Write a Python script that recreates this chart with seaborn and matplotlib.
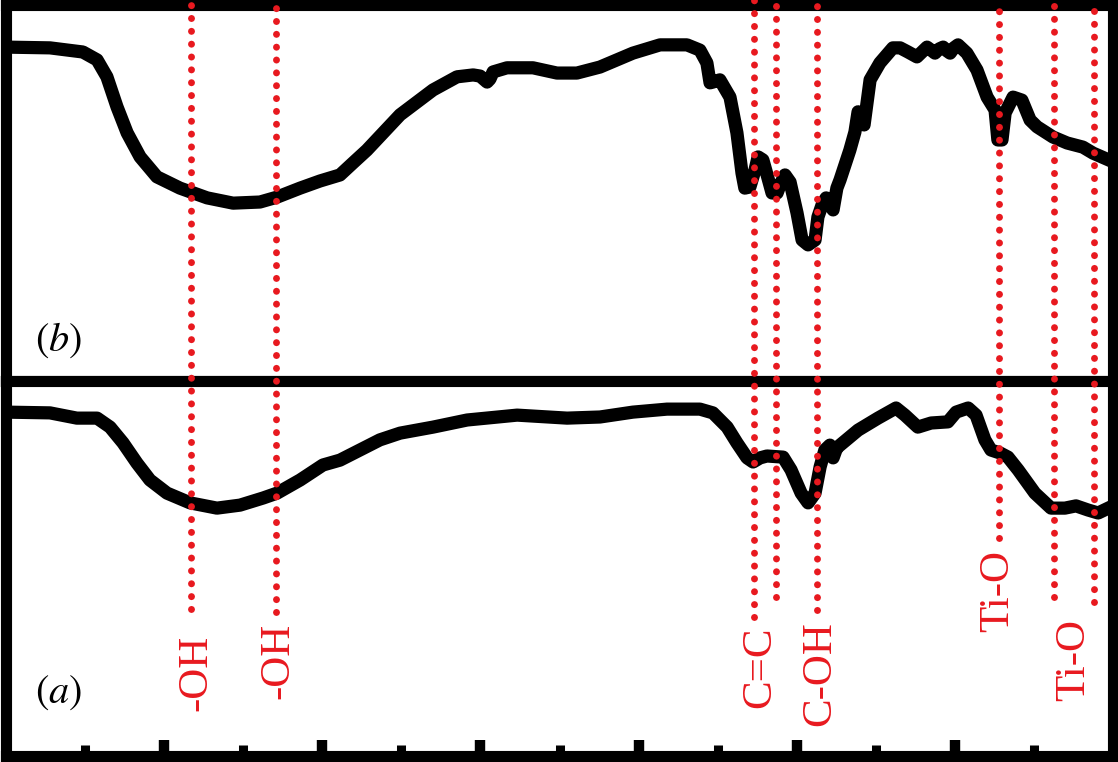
import matplotlib
matplotlib.use("Agg")
import matplotlib.pyplot as plt
import seaborn as sns

# ---------------- data ----------------
# spectrum (b) - upper panel: wavenumber (cm-1) and transmittance (%)
wn_b = [4000, 3861, 3757, 3712, 3681, 3649, 3617, 3576, 3523, 3450,
        3364, 3282, 3197, 3143, 3070, 3007, 2944, 2903, 2859, 2754,
        2650, 2574, 2523, 2501, 2479, 2470, 2460, 2416, 2334, 2258,
        2195, 2122, 2018, 1932, 1847, 1806, 1784, 1774, 1765, 1743,
        1711, 1689, 1673, 1664, 1648, 1632, 1622, 1607, 1591, 1578,
        1562, 1550, 1537, 1521, 1499, 1483, 1464, 1442, 1433, 1420,
        1407, 1395, 1385, 1373, 1363, 1332, 1316, 1306, 1297, 1287,
        1268, 1237, 1196, 1173, 1148, 1120, 1104, 1088, 1075, 1063,
        1050, 1037, 1025, 1015, 1003, 990, 962, 930, 898, 873,
        864, 851, 841, 816, 788, 762, 740, 690, 645, 595,
        563, 500]
tr_b = [88.8, 88.6, 87.5, 85.4, 80.9, 72.9, 66.0, 59.6, 54.3, 51.3,
        48.7, 47.3, 47.6, 48.9, 51.3, 53.2, 54.8, 58.0, 61.4, 70.8,
        77.4, 80.9, 81.4, 81.1, 79.5, 80.3, 82.2, 83.3, 83.3, 81.9,
        81.9, 83.5, 87.2, 89.4, 89.4, 88.0, 84.6, 79.3, 79.5, 80.1,
        75.5, 66.0, 55.3, 51.3, 51.6, 56.1, 59.6, 58.8, 54.0, 50.0,
        50.0, 52.7, 54.8, 52.9, 44.7, 37.5, 36.2, 37.5, 43.6, 46.8,
        48.7, 46.8, 45.5, 51.3, 53.5, 61.4, 66.2, 71.6, 69.4, 68.1,
        80.1, 84.6, 88.6, 88.6, 87.5, 86.2, 87.5, 88.8, 88.0, 87.2,
        88.3, 88.8, 87.8, 87.2, 88.6, 89.4, 87.2, 82.7, 75.5, 72.1,
        64.1, 64.1, 71.3, 75.5, 74.7, 69.4, 67.6, 64.9, 63.3, 62.2,
        60.6, 58.3]

# spectrum (a) - lower panel
wn_a = [4000, 3861, 3776, 3712, 3671, 3630, 3586, 3545, 3491, 3418,
        3333, 3260, 3187, 3143, 3070, 2998, 2944, 2881, 2818, 2754,
        2650, 2542, 2384, 2226, 2122, 2018, 1910, 1806, 1765, 1720,
        1689, 1657, 1638, 1616, 1594, 1543, 1518, 1486, 1464, 1442,
        1426, 1411, 1395, 1385, 1376, 1370, 1306, 1243, 1186, 1158,
        1117, 1075, 1022, 996, 958, 933, 905, 886, 857, 832,
        800, 747, 696, 652, 617, 579, 547, 500]
tr_a = [91.7, 91.5, 90.1, 90.1, 87.7, 83.5, 78.1, 73.6, 70.1, 67.5,
        66.1, 66.9, 68.8, 70.1, 73.6, 77.6, 78.9, 81.6, 84.3, 86.1,
        87.7, 89.6, 90.9, 90.1, 90.4, 91.7, 92.5, 92.5, 91.5, 87.7,
        83.5, 79.5, 78.4, 79.5, 80.0, 79.7, 76.3, 70.1, 67.5, 70.1,
        77.1, 81.6, 82.9, 79.5, 81.6, 82.4, 86.9, 90.1, 92.8, 90.9,
        87.7, 88.8, 89.1, 91.7, 92.8, 90.9, 84.3, 81.6, 80.8, 79.7,
        76.3, 70.1, 66.1, 66.1, 66.7, 65.6, 64.8, 66.7]

# band markers (dotted red lines)
band_wn = [3415, 3145, 1635, 1565, 1435, 860, 687, 560]
band_end = [39.2, 38.4, 37.1, 42.4, 38.9, 58.1, 42.4, 41.1]

# band labels
label_text = ["-OH", "-OH", "C=C", "C-OH", "Ti-O", "Ti-O"]
label_wn = [3400, 3140, 1616, 1426, 864, 623]
label_tr = [22.1, 25.3, 23.7, 22.1, 44.0, 25.6]

panel_labels = [r"$(b)$", r"$(a)$"]
major_ticks = [3500, 3000, 2500, 2000, 1500, 1000]
minor_ticks = [3750, 3250, 2750, 2250, 1750, 1250, 750]

# ---------------- style ----------------
sns.set_style("white")
plt.rcParams["mathtext.fontset"] = "stix"
plt.rcParams["font.family"] = ["Liberation Serif", "DejaVu Serif"]

RED = "#e8191f"
W, H = 1118, 762
fig = plt.figure(figsize=(W / 100, H / 100), dpi=100)
fig.patch.set_facecolor("white")

ax_b = fig.add_axes([6 / W, 381 / H, 1107 / W, 376 / H])
ax_a = fig.add_axes([6 / W, 6 / H, 1107 / W, 375 / H])

for ax, wn, tr in ((ax_b, wn_b, tr_b), (ax_a, wn_a, tr_a)):
    sns.lineplot(x=wn, y=tr, ax=ax, color="black", lw=9.5, sort=False,
                 estimator=None, solid_joinstyle="round", solid_capstyle="butt",
                 zorder=3)
    ax.set_xlim(4000, 500)
    ax.set_ylim(0, 100)
    ax.set_xlabel("")
    ax.set_ylabel("")
    ax.set_facecolor("white")
    for sp in ax.spines.values():
        sp.set_visible(True)
        sp.set_linewidth(8)
        sp.set_color("black")
    ax.tick_params(axis="y", left=False, right=False, labelleft=False)

ax_b.tick_params(axis="x", which="both", bottom=False, top=False, labelbottom=False)

ax_a.set_xticks(major_ticks)
ax_a.set_xticks(minor_ticks, minor=True)
ax_a.tick_params(axis="x", which="major", direction="in", bottom=True, top=False,
                 length=11.5, width=7.5, color="black", labelbottom=False)
ax_a.tick_params(axis="x", which="minor", direction="in", bottom=True, top=False,
                 length=8, width=6.5, color="black", labelbottom=False)

# dotted band lines spanning both panels
for wn, end in zip(band_wn, band_end):
    ax_a.axvline(wn, ymin=end / 100, ymax=2.03, color=RED, lw=5,
                 linestyle=(0, (0.01, 1.84)), dash_capstyle="round",
                 clip_on=False, zorder=6)

for txt, wn, tr in zip(label_text, label_wn, label_tr):
    ax_a.text(wn, tr, txt, rotation=90, ha="center", va="center", color=RED,
              fontsize=31, family="Liberation Serif", zorder=7)

ax_b.text(0.026, 0.109, panel_labels[0], transform=ax_b.transAxes,
          fontsize=29, ha="left", va="center", color="black")
ax_a.text(0.026, 0.168, panel_labels[1], transform=ax_a.transAxes,
          fontsize=29, ha="left", va="center", color="black")

fig.savefig("out.png", dpi=100)
